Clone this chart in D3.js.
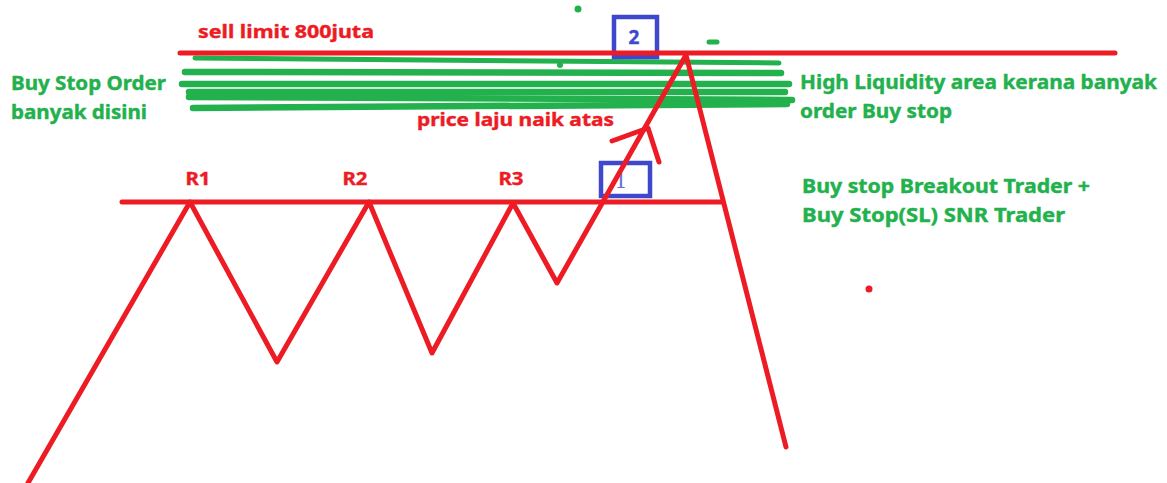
<!DOCTYPE html>
<html>
<head>
<meta charset="utf-8">
<script src="https://cdn.jsdelivr.net/npm/d3@7"></script>
<style>
html,body{margin:0;padding:0;background:#fff;}
svg{display:block;}
text{font-family:"Noto Sans",sans-serif;font-weight:700;}
</style>
</head>
<body>
<svg id="chart" width="1167" height="483"></svg>
<script>
// ---- data (x = time position, level = price height from bottom) ----
const priceTime  = [28, 190, 277, 369, 432, 513, 557, 686, 786];
const priceLevel = [0, 281, 121, 281, 130, 280, 200, 428, 36];

const resistanceTime  = [122, 723];
const resistanceLevel = 281;
const sellLimitTime   = [180, 1115];
const sellLimitLevel  = 430;

const peakNames = ["R1", "R2", "R3"];
const peakTime  = [198, 355, 511];
const peakLevel = [298, 298, 298];

// green liquidity strokes: start time, end time, start level, end level
const liqStart = [195, 185, 182, 189, 189, 193];
const liqEnd   = [779, 781, 789, 785, 792, 787];
const liqLvlA  = [425, 411, 399, 391, 386, 375];
const liqLvlB  = [420, 410, 399, 391, 383, 379];

const arrowTime  = [612, 648, 659];
const arrowLevel = [342, 355, 321];

const boxNames = ["2", "1"];
const boxTime  = [[614, 657], [601, 650]];
const boxLevel = [[466, 426], [320, 287]];
const boxLabelTime  = [634, 621];
const boxLabelLevel = [439, 295];

const redTexts = ["sell limit 800juta", "price laju naik atas"];
const redTextTime  = [198, 417];
const redTextEnd   = [374, 614];
const redTextLevel = [445, 357];

const greenTexts = ["Buy Stop Order", "banyak disini",
  "High Liquidity area kerana banyak", "order Buy stop",
  "Buy stop Breakout Trader +", "Buy Stop(SL) SNR Trader"];
const greenTextTime  = [11, 11, 800, 800, 802, 802];
const greenTextEnd   = [166, 147, 1157, 952, 1090, 1065];
const greenTextLevel = [393, 364, 394, 365, 290, 261];

const dotTime  = [578, 869];
const dotLevel = [474, 194];
const dotColor = ["green", "red"];
const dashTime = [709, 717];
const dashLevel = 441;

// ---- scales ----
const W = 1167, H = 483;
const x = d3.scaleLinear().domain([0, W]).range([0, W]);
const y = d3.scaleLinear().domain([0, H]).range([H, 0]);

const RED = "#ed1c24", GREEN = "#22b14c", BLUE = "#3f48cc";
const svg = d3.select("#chart");
const line = d3.line().x(d => x(d[0])).y(d => y(d[1]));

// green liquidity strokes
svg.append("g").selectAll("path")
  .data(liqStart.map((s, i) => [[s, liqLvlA[i]], [liqEnd[i], liqLvlB[i]]]))
  .join("path")
  .attr("d", line)
  .attr("fill", "none").attr("stroke", GREEN)
  .attr("stroke-width", (d, i) => i === 0 ? 5 : 6.5).attr("stroke-linecap", "round");
// small green blob on first stroke
svg.append("circle").attr("cx", x(560)).attr("cy", y(418)).attr("r", 3).attr("fill", GREEN);

// blue boxes
const boxes = svg.append("g");
boxTime.forEach((t, i) => {
  boxes.append("rect")
    .attr("x", x(t[0])).attr("y", y(boxLevel[i][0]))
    .attr("width", x(t[1]) - x(t[0]))
    .attr("height", y(boxLevel[i][1]) - y(boxLevel[i][0]))
    .attr("fill", "none").attr("stroke", BLUE).attr("stroke-width", 4.5);
});
boxes.append("text").text(boxNames[0])
  .attr("x", x(boxLabelTime[0])).attr("y", y(boxLabelLevel[0]))
  .attr("text-anchor", "middle").attr("font-size", 19).attr("fill", BLUE)
  .attr("stroke", BLUE).attr("stroke-width", 0.4);
boxes.append("text").text(boxNames[1])
  .attr("x", x(boxLabelTime[1])).attr("y", y(boxLabelLevel[1]))
  .attr("text-anchor", "middle").attr("font-size", 21)
  .style("font-family", "'DejaVu Serif',serif").style("font-weight", 400)
  .attr("fill", "#6a72d6");

// horizontal lines
svg.append("path").attr("d", line(resistanceTime.map(t => [t, resistanceLevel])))
  .attr("stroke", RED).attr("stroke-width", 5).attr("stroke-linecap", "round").attr("fill", "none");
svg.append("path").attr("d", line(sellLimitTime.map(t => [t, sellLimitLevel])))
  .attr("stroke", RED).attr("stroke-width", 5).attr("stroke-linecap", "round").attr("fill", "none");

// price path
svg.append("path").attr("d", line(priceTime.map((t, i) => [t, priceLevel[i]])))
  .attr("fill", "none").attr("stroke", RED).attr("stroke-width", 5)
  .attr("stroke-linejoin", "round").attr("stroke-linecap", "round");

// arrow head
svg.append("path").attr("d", line(arrowTime.map((t, i) => [t, arrowLevel[i]])))
  .attr("fill", "none").attr("stroke", RED).attr("stroke-width", 5)
  .attr("stroke-linejoin", "round").attr("stroke-linecap", "round");

// dots
dotTime.forEach((t, i) => {
  svg.append("circle").attr("cx", x(t)).attr("cy", y(dotLevel[i])).attr("r", 3.5)
    .attr("fill", dotColor[i] === "red" ? RED : GREEN);
});
svg.append("path").attr("d", line(dashTime.map(t => [t, dashLevel])))
  .attr("stroke", GREEN).attr("stroke-width", 5).attr("stroke-linecap", "round");

// text helpers
function label(str, t0, t1, lvl, color, size) {
  svg.append("text").text(str)
    .attr("x", x(t0)).attr("y", y(lvl))
    .attr("font-size", size).attr("fill", color)
    .attr("stroke", color).attr("stroke-width", 0.4)
    .attr("textLength", x(t1) - x(t0)).attr("lengthAdjust", "spacingAndGlyphs");
}
redTexts.forEach((s, i) => label(s, redTextTime[i], redTextEnd[i], redTextLevel[i], RED, 18));
greenTexts.forEach((s, i) => label(s, greenTextTime[i], greenTextEnd[i], greenTextLevel[i], GREEN, 19.5));
peakNames.forEach((s, i) => {
  svg.append("text").text(s)
    .attr("x", x(peakTime[i])).attr("y", y(peakLevel[i]))
    .attr("text-anchor", "middle").attr("font-size", 18.5).attr("fill", RED)
    .attr("stroke", RED).attr("stroke-width", 0.4)
    .attr("textLength", 25).attr("lengthAdjust", "spacingAndGlyphs");
});
</script>
</body>
</html>
